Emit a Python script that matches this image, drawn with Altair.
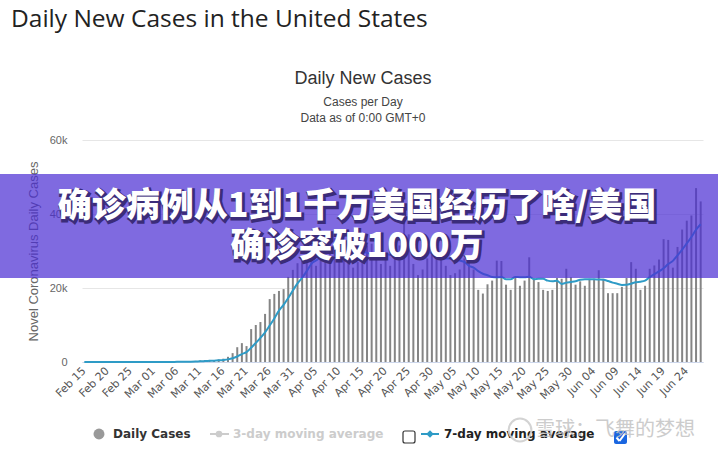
import altair as alt
import pandas as pd

# ---- data ----
feb = [0, 0, 0, 0, 0, 0, 1, 0, 0, 0, 3, 0, 1, 3, 6]                     # Feb 15-29
mar = [9, 22, 22, 28, 75, 80, 108, 120, 175, 290, 420, 520,              # Mar 1-12
       550, 500, 700, 900, 1400, 2400, 4000, 5100, 4300, 8900, 10000,    # Mar 13-23
       10800, 13000, 17000, 18400, 19200, 19700, 23000, 24900]           # Mar 24-31
apr = [26700, 27500, 31000, 33000, 26000, 29500, 31000, 32000, 33500, 34500,
       30500, 28000, 25500, 27000, 29500, 31500, 32000, 29500, 26500, 28000,
       26000, 29000, 31500, 38300, 34500, 26500, 23500, 25000, 28000, 30500]
may = [34500, 28500, 26000, 23500, 24000, 25000, 28000, 27000, 25000, 19500,
       18500, 21000, 22000, 27400, 27300, 20900, 19500, 22700, 20600, 22000,
       28300, 22700, 21600, 19500, 19200, 19500, 22700, 22500, 25200, 22900, 20900]
jun = [21800, 20600, 22500, 22500, 24800, 22500, 18600, 18600, 18600, 20300,
       22700, 27000, 25200, 19500, 20600, 25200, 26100, 27700, 33200, 33000,
       25500, 31100, 35800, 38200, 39600, 47000, 43400]
cases = feb + mar + apr + may + jun
days = [d.strftime("%b %d") for d in pd.date_range("2020-02-15", periods=len(cases), freq="D")]
tick_labels = days[::5]
y_ticks = [0, 20000, 40000, 60000]

main_title = "Daily New Cases in the United States"
chart_title = "Daily New Cases"
sub1 = "Cases per Day"
sub2 = "Data as of 0:00 GMT+0"
y_title = "Novel Coronavirus Daily Cases"
banner1 = "确诊病例从1到1千万美国经历了啥/美国"
banner2 = "确诊突破1000万"
watermark = "雪球：飞舞的梦想"

df = pd.DataFrame({"i": range(len(cases)), "day": days, "cases": cases})

OX, OY = 82, 140   # plot origin on the page
BAR = "#858585"
LINE = "#2e9bc6"

xenc = alt.X("day:O", sort=days, title=None,
             scale=alt.Scale(paddingInner=0, paddingOuter=0),
             axis=alt.Axis(values=tick_labels, labelAngle=315, labelAlign="right",
                           labelBaseline="middle", ticks=False, domainColor="#ccd6eb",
                           labelColor="#555", labelFontSize=11, labelPadding=7,
                           labelFont="DejaVu Sans", grid=False, labelOverlap=False))

yscale = alt.Scale(domain=[0, 60000])
yaxis = alt.Axis(values=y_ticks,
                 labelExpr="datum.value == 0 ? '0' : format(datum.value / 1000, 'd') + 'k'",
                 title=y_title, gridColor="#e6e6e6",
                 domain=False, ticks=False, labelColor="#666", titleColor="#666",
                 titleFontWeight="normal", titleFontSize=13, labelFontSize=11,
                 labelPadding=15, titlePadding=9, titleFont="Liberation Sans",
                 labelFont="Liberation Sans")

bars = alt.Chart(df).mark_bar(size=2, color=BAR).encode(
    x=xenc, y=alt.Y("cases:Q", scale=yscale, axis=yaxis))

line = alt.Chart(df).transform_window(
    avg="mean(cases)", frame=[-6, 0], sort=[alt.SortField("i")]
).mark_line(color=LINE, strokeWidth=2, interpolate="monotone").encode(
    x=alt.X("day:O", sort=days), y=alt.Y("avg:Q", scale=yscale))


def txt(s, x, y, **kw):
    return alt.Chart(pd.DataFrame({"t": [s]})).mark_text(**kw).encode(
        x=alt.value(x - OX), y=alt.value(y - OY), text="t:N")


def one():
    return alt.Chart(pd.DataFrame({"a": [0]}))


def seg(x1, y1, x2, y2, **kw):
    return one().mark_rule(**kw).encode(
        x=alt.value(x1 - OX), y=alt.value(y1 - OY), x2=alt.value(x2 - OX), y2=alt.value(y2 - OY))


layers = [bars, line]

# titles
layers.append(txt(main_title, 11, 20, align="left", baseline="middle", fontSize=24.5,
                  font="Open Sans", color="#222"))
layers.append(txt(chart_title, 363, 79, align="center", baseline="middle", fontSize=18,
                  font="Liberation Sans", color="#333"))
layers.append(txt(sub1, 363, 102, align="center", baseline="middle", fontSize=12,
                  font="Liberation Sans", color="#444"))
layers.append(txt(sub2, 363, 118, align="center", baseline="middle", fontSize=12,
                  font="Liberation Sans", color="#444"))

# legend
LY = 434
layers.append(one().mark_circle(size=120, color="#999", opacity=1).encode(
    x=alt.value(99 - OX), y=alt.value(LY - OY)))
layers.append(txt("Daily Cases", 113, LY, align="left", baseline="middle", fontSize=12,
                  fontWeight="bold", font="DejaVu Sans", color="#333"))
layers.append(seg(210, LY, 229, LY, color="#cccccc", strokeWidth=2))
layers.append(one().mark_circle(size=45, color="#cccccc", opacity=1).encode(
    x=alt.value(219 - OX), y=alt.value(LY - OY)))
layers.append(txt("3-day moving average", 233, LY, align="left", baseline="middle",
                  fontSize=12, fontWeight="bold", font="DejaVu Sans", color="#cccccc"))
layers.append(one().mark_rect(fill="white", stroke="#333", strokeWidth=1.2,
                              cornerRadius=2).encode(
    x=alt.value(403 - OX), x2=alt.value(415 - OX), y=alt.value(431 - OY), y2=alt.value(443 - OY)))
layers.append(seg(421, LY, 439, LY, color=LINE, strokeWidth=2))
layers.append(one().mark_point(shape="diamond", size=55, filled=True, color=LINE,
                               opacity=1).encode(
    x=alt.value(430 - OX), y=alt.value(LY - OY)))
layers.append(txt("7-day moving average", 444, LY, align="left", baseline="middle",
                  fontSize=12, fontWeight="bold", font="DejaVu Sans", color="#222"))
layers.append(one().mark_rect(fill="#1a66e0", cornerRadius=2).encode(
    x=alt.value(614 - OX), x2=alt.value(627 - OX), y=alt.value(431 - OY), y2=alt.value(444 - OY)))
layers.append(seg(616.5, 437.5, 619.5, 441, color="white", strokeWidth=2))
layers.append(seg(619.5, 441, 625, 433.5, color="white", strokeWidth=2))

# watermark
layers.append(one().mark_point(shape="circle", size=520, color="#cfcfcf", strokeWidth=2,
                               opacity=0.9).encode(
    x=alt.value(520 - OX), y=alt.value(430 - OY)))
layers.append(txt(watermark, 535, 430, align="left", baseline="middle", fontSize=20,
                  font="Noto Sans CJK SC", color="#c4c4c4", opacity=0.85))

# banner
layers.append(one().mark_rect(color="#4b2dd3", opacity=0.71).encode(
    x=alt.value(0 - OX), x2=alt.value(718 - OX), y=alt.value(174 - OY), y2=alt.value(278 - OY)))
for s, yy in [(banner1, 207), (banner2, 247)]:
    layers.append(txt(s, 358.5, yy + 1.5, align="center", baseline="middle", fontSize=34,
                      font="Noto Sans CJK SC", fontWeight=900, color="#3b2c7a",
                      stroke="#3b2c7a", strokeWidth=3))
    layers.append(txt(s, 357, yy, align="center", baseline="middle", fontSize=34,
                      font="Noto Sans CJK SC", fontWeight=900, color="white"))

chart = alt.layer(*layers).properties(
    width=621, height=222,
    autosize=alt.AutoSizeParams(type="none"),
    padding={"left": OX, "top": OY, "right": 15, "bottom": 90},
).configure_view(stroke=None)

chart.save("out.html", embed_options={"renderer": "svg", "actions": False})
